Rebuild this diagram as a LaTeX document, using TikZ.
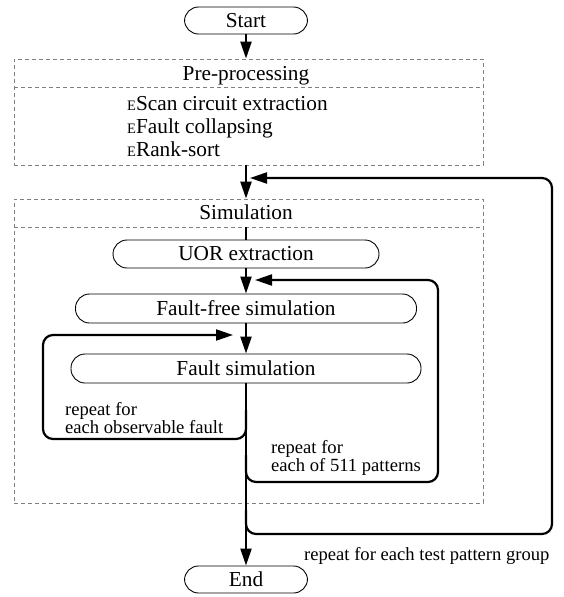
\documentclass[tikz,border=0pt]{standalone}
\usepackage{fontspec}
\setmainfont{Liberation Serif}
\usetikzlibrary{arrows.meta}
\newcommand{\mainsz}{\fontsize{21.3}{25}\selectfont}
\newcommand{\lblsz}{\fontsize{18.6}{15}\selectfont}
\newcommand{\bul}{{\fontsize{14.5}{14.5}\selectfont E}}
\begin{document}
\begin{tikzpicture}[x=1pt,y=1pt,
  term/.style={draw, line width=0.9pt, rounded corners=14pt, inner sep=0pt, font=\mainsz},
  dashbox/.style={draw=black!50, dash pattern=on 4pt off 3pt, line width=0.8pt, inner sep=0pt, minimum width=469pt},
  dashline/.style={draw=black!50, dash pattern=on 4pt off 3pt, line width=0.8pt},
  title/.style={font=\mainsz, inner sep=0pt},
  item/.style={font=\mainsz, inner sep=0pt, anchor=base west},
  lbl/.style={font=\lblsz, inner sep=0pt, align=left},
  flow/.style={line width=2.2pt, -{Triangle[length=17pt,width=11pt]}},
  loopline/.style={line width=2.2pt, rounded corners=10pt, -{Triangle[length=17pt,width=11pt]}}
]
\useasboundingbox (0,0) rectangle (563,-597);

% terminals
\node[term, minimum width=123pt, minimum height=27pt] (start) at (246,-20.5) {Start};
\node[term, minimum width=123pt, minimum height=27pt] (end) at (246,-579.5) {End};

% pre-processing box
\node[dashbox, minimum height=106pt] (pre) at (248.5,-112) {};
\coordinate (prediv) at (14,-87);
\draw[dashline] (prediv) -- (prediv -| pre.east);
\node[title, anchor=base] (pretitle) at (246,-80) {Pre-processing};
\node[item] (i1) at (127,-110) {\bul Scan circuit extraction};
\node[item] (i2) at (127,-133) {\bul Fault collapsing};
\node[item] (i3) at (127,-156) {\bul Rank-sort};

% simulation box
\node[dashbox, minimum height=304pt] (sim) at (248.5,-351) {};
\coordinate (simdivl) at (14,-227);
\draw[dashline] (simdivl) -- (simdivl -| sim.east);
\node[title, anchor=base] (simtitle) at (246,-219) {Simulation};
\coordinate (simdiv) at (246,-227);

% process nodes
\node[term, minimum width=266pt, minimum height=28pt] (uor) at (246,-254) {UOR extraction};
\node[term, minimum width=341pt, minimum height=29pt] (ff) at (246,-308.5) {Fault-free simulation};
\node[term, minimum width=350pt, minimum height=29pt] (fs) at (246,-368.5) {Fault simulation};

% main flow
\draw[flow] (start.south) -- (start.south |- pre.north);
\draw[flow] (start.south |- pre.south) -- (start.south |- sim.north);
\draw[line width=1.5pt] (simdiv) -- (uor.north);
\draw[flow] (uor.south) -- (ff.north);
\draw[flow] (ff.south) -- (fs.north);
\draw[flow] (fs.south) -- (end.north);

% loops
\coordinate (ls) at (246,-410);
\coordinate (lb) at (43,-439);
\coordinate (lt) at (233,-335);
\draw[loopline] (ls) |- (lb) |- (lt);

\coordinate (ms) at (246,-455);
\coordinate (mb) at (438,-482);
\coordinate (mt) at (255,-280);
\draw[loopline] (ms) |- (mb) |- (mt);

\coordinate (os) at (246,-510);
\coordinate (ob) at (552,-534);
\coordinate (ot) at (250,-178);
\draw[loopline] (os) |- (ob) |- (ot);

% labels
\node[lbl, anchor=north west] (l1) at (65,-402.5) {repeat for\\each observable fault};
\node[lbl, anchor=north west] (l2) at (271,-440.5) {repeat for\\each of 511 patterns};
\node[lbl, anchor=base west] (l3) at (304,-560) {repeat for each test pattern group};
\end{tikzpicture}
\end{document}
